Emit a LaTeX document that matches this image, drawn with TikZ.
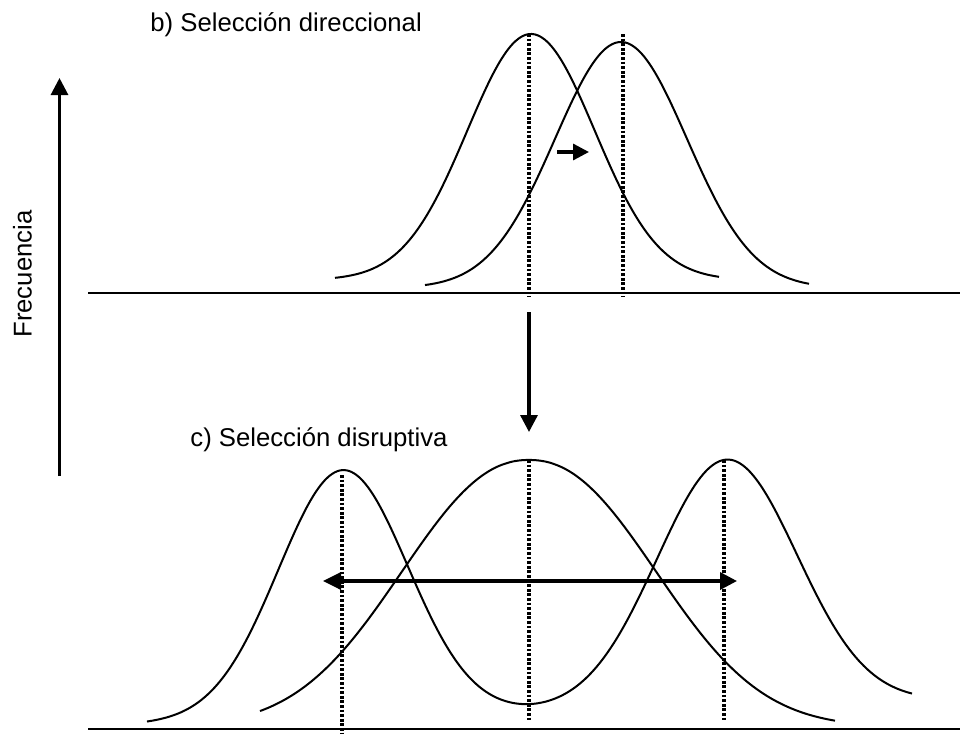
\documentclass[tikz,border=0pt]{standalone}
\usepackage{fontspec}
\setmainfont{Liberation Sans}
\usetikzlibrary{arrows.meta}
\begin{document}
\begin{tikzpicture}[x=0.5pt,y=-0.5pt,font=\fontsize{12.85pt}{15pt}\selectfont,
  curva/.style={line width=1pt,smooth,samples=120},
  media/.style={line width=1.7pt,dash pattern=on 1.4pt off 0.9pt},
  flecha/.style={line width=1.6pt,-{Triangle[length=8.5pt,width=8.5pt]}}]
 \useasboundingbox (0,0) rectangle (960,734);
 % eje de frecuencia y lineas de base
 \coordinate (ejeA) at (59.5,476);\coordinate (ejeB) at (59.5,78);
 \draw[flecha,line width=1.5pt] (ejeA)--(ejeB);
 \node[rotate=90,anchor=base west,inner sep=0] (frec) at (31.7,338) {Frecuencia};
 \foreach \y in {292.7,729}{\draw[line width=1.1pt] (88,\y)--(960,\y);}
 % b) seleccion direccional
 \node[anchor=base west,inner sep=0] (tituloB) at (150,31.7) {b) Selección direccional};
 \draw[curva] plot[domain=335:719] (\x,{280-246*exp(-((\x-531)/90.2)^2)});
 \draw[curva] plot[domain=425:809] (\x,{288-246*exp(-((\x-621)/93.3)^2)});
 \foreach \x in {529,623}{\draw[media] (\x,34)--(\x,297);}
 \coordinate (despA) at (557,152);\coordinate (despB) at (589,152);
 \draw[flecha,line width=1.65pt,-{Triangle[length=8pt,width=8pt]}] (despA)--(despB);
 \coordinate (pasoA) at (529,312);\coordinate (pasoB) at (529,432);
 \draw[flecha,line width=1.65pt] (pasoA)--(pasoB);
 % c) seleccion disruptiva
 \node[anchor=base west,inner sep=0] (tituloC) at (190,446.7) {c) Selección disruptiva};
 \draw[curva,samples=160] plot[domain=147:912] (\x,{724-0.03*(\x-147)-248*exp(-((\x-343)/91.4)^2)-247*exp(-((\x-727)/99)^2)});
 \draw[curva] plot[domain=260:835] (\x,{727-267*exp(-((abs(\x-529)+0.01)/168)^2.2)});
 \foreach \x/\a/\b in {342/475/733,529/460/722,724/460/722}{\draw[media] (\x,\a)--(\x,\b);}
 \coordinate (extA) at (323,581);\coordinate (extB) at (737,581);
 \draw[flecha,line width=1.75pt,{Triangle[length=9pt,width=8.5pt]}-{Triangle[length=8.5pt,width=8.5pt]}] (extA)--(extB);
\end{tikzpicture}
\end{document}
